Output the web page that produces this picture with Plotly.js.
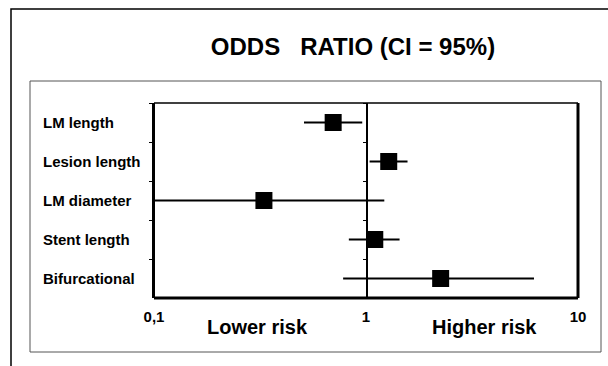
<!DOCTYPE html>
<html>
<head>
<meta charset="utf-8">
<script src="https://cdn.plot.ly/plotly-3.0.1.min.js"></script>
<style>
  html, body { margin: 0; padding: 0; background: #ffffff; }
  #chart { width: 608px; height: 366px; }
</style>
</head>
<body>
<div id="chart"></div>
<script>
// ---- data ----
const categories = ["LM length", "Lesion length", "LM diameter", "Stent length", "Bifurcational"];
const oddsRatio  = [0.70, 1.28, 0.33, 1.10, 2.25];
const ciLower    = [0.51, 1.04, 0.10, 0.83, 0.78];
const ciUpper    = [0.96, 1.57, 1.22, 1.44, 6.20];
const xTickVals  = [0.1, 1, 10];
const xTickText  = ["0,1", "1", "10"];
const titleText  = "ODDS\u00a0\u00a0\u00a0RATIO (CI = 95%)";
const sideLabels = ["Lower risk", "Higher risk"];

const FONT = "Liberation Sans, Arial, Helvetica, sans-serif";

const errPlus  = oddsRatio.map((v, i) => ciUpper[i] - v);
const errMinus = oddsRatio.map((v, i) => v - ciLower[i]);

const traces = [
  {
    type: "scatter",
    mode: "markers",
    x: oddsRatio,
    y: categories,
    marker: { symbol: "square", size: 17, color: "#000000", line: { width: 0 } },
    error_x: {
      type: "data",
      symmetric: false,
      array: errPlus,
      arrayminus: errMinus,
      color: "#000000",
      thickness: 2,
      width: 0
    },
    cliponaxis: true,
    showlegend: false,
    hoverinfo: "x+y"
  },
  {
    // invisible helper so the central reference axis (OR = 1) gets its category ticks
    type: "scatter",
    mode: "markers",
    x: oddsRatio,
    y: categories,
    yaxis: "y2",
    marker: { opacity: 0 },
    showlegend: false,
    hoverinfo: "skip"
  }
];

// plot area: left 154, right 578, top 103, bottom 298 (px)
const L = 154, R = 578, T = 103, B = 298, W = 608, H = 366;
const pw = R - L, ph = B - T;
const px = v => (v - L) / pw;
const py = v => (B - v) / ph;

const layout = {
  width: W,
  height: H,
  margin: { l: L, r: W - R, t: T, b: H - B, pad: 0 },
  paper_bgcolor: "#ffffff",
  plot_bgcolor: "#ffffff",
  showlegend: false,
  font: { family: FONT, color: "#000000" },
  title: {
    text: titleText,
    font: { family: FONT, size: 24, weight: "bold", color: "#000000" },
    xref: "paper",
    x: px(353),
    xanchor: "center",
    yref: "container",
    y: 1 - 47 / H,
    yanchor: "middle"
  },
  xaxis: {
    type: "log",
    range: [-1, 1],
    tickmode: "array",
    tickvals: xTickVals,
    ticktext: xTickText,
    ticks: "",
    ticklabelstandoff: 8,
    tickfont: { family: FONT, size: 15, weight: "bold", color: "#000000" },
    showline: false,
    showgrid: false,
    zeroline: false,
    fixedrange: true
  },
  yaxis: {
    type: "category",
    categoryorder: "array",
    categoryarray: categories,
    range: [categories.length - 0.5, -0.5],
    showline: true,
    linecolor: "#000000",
    linewidth: 2,
    ticks: "outside",
    ticklen: 3,
    tickwidth: 1,
    tickcolor: "#000000",
    tickson: "boundaries",
    showticklabels: false,
    showgrid: false,
    zeroline: false,
    fixedrange: true
  },
  yaxis2: {
    type: "category",
    overlaying: "y",
    anchor: "free",
    position: 0.5,
    categoryorder: "array",
    categoryarray: categories,
    range: [categories.length - 0.5, -0.5],
    showline: true,
    linecolor: "#000000",
    linewidth: 1.5,
    ticks: "outside",
    ticklen: 3,
    tickwidth: 1,
    tickcolor: "#000000",
    tickson: "boundaries",
    showticklabels: false,
    showgrid: false,
    zeroline: false,
    fixedrange: true
  },
  shapes: [
    // outer frame
    { type: "rect", xref: "paper", yref: "paper", x0: px(11), x1: px(640), y0: py(400), y1: py(9),
      line: { color: "#000000", width: 1.5 }, fillcolor: "rgba(0,0,0,0)", layer: "below" },
    // inner frame
    { type: "rect", xref: "paper", yref: "paper", x0: px(30), x1: px(601), y0: py(352), y1: py(81),
      line: { color: "#555555", width: 1 }, fillcolor: "rgba(0,0,0,0)", layer: "below" },
    // plot area border: top & left (thin), right & bottom (thick)
    { type: "line", xref: "paper", yref: "paper", x0: 0, x1: 1, y0: 1, y1: 1,
      line: { color: "#000000", width: 1.5 } },
    { type: "line", xref: "paper", yref: "paper", x0: 0, x1: 0, y0: 0, y1: 1,
      line: { color: "#000000", width: 2 } },
    { type: "line", xref: "paper", yref: "paper", x0: 1, x1: 1, y0: 0, y1: 1,
      line: { color: "#000000", width: 3 } },
    { type: "line", xref: "paper", yref: "paper", x0: 0, x1: 1, y0: 0, y1: 0,
      line: { color: "#000000", width: 3 } }
  ],
  annotations: [
    ...categories.map(c => ({
      xref: "paper", yref: "y", x: px(41), y: c,
      xanchor: "left", yanchor: "middle",
      text: c, showarrow: false,
      font: { family: FONT, size: 15, weight: "bold", color: "#000000" }
    })),
    { xref: "paper", yref: "paper", x: px(257.5), y: py(327), xanchor: "center", yanchor: "middle",
      text: sideLabels[0], showarrow: false,
      font: { family: FONT, size: 20, weight: "bold", color: "#000000" } },
    { xref: "paper", yref: "paper", x: px(484), y: py(327), xanchor: "center", yanchor: "middle",
      text: sideLabels[1], showarrow: false,
      font: { family: FONT, size: 20, weight: "bold", color: "#000000" } }
  ]
};

Plotly.newPlot("chart", traces, layout, { displayModeBar: false, staticPlot: true });
</script>
</body>
</html>
